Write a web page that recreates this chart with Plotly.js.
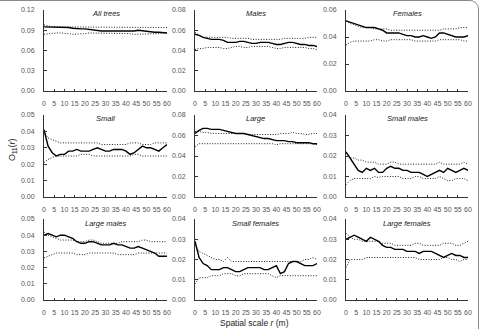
<!DOCTYPE html>
<html>
<head>
<meta charset="utf-8">
<script src="https://cdn.plot.ly/plotly-3.0.1.min.js"></script>
<style>
  html, body { margin: 0; padding: 0; background: #fff; overflow: hidden; }
  #wrap { position: relative; width: 479px; height: 329px; }
  #chart { width: 479px; height: 329px; }
  #frame {
    position: absolute; left: -20px; top: 0; width: 499px; height: 345px;
    box-sizing: border-box; border: 1px solid #8a8a8a; border-radius: 0 9px 9px 0;
    pointer-events: none;
  }
</style>
</head>
<body>
<div id="wrap">
  <div id="chart"></div>
  <div id="frame"></div>
</div>
<script>
// Spatial scale r (m), sampled every 2 m
const r = [0,2,4,6,8,10,12,14,16,18,20,22,24,26,28,30,32,34,36,38,40,42,44,46,48,50,52,54,56,58,60];

// Observed O11(r) and the upper / lower simulation envelopes for each group
const allTreesObs = [0.095,0.095,0.094,0.094,0.094,0.094,0.094,0.093,0.092,0.092,0.092,0.091,0.090,0.090,0.089,0.089,0.089,0.0885,0.0885,0.088,0.088,0.089,0.089,0.090,0.089,0.088,0.087,0.087,0.087,0.086,0.086];
const allTreesHi  = [0.098,0.096,0.095,0.095,0.095,0.095,0.095,0.095,0.094,0.094,0.094,0.094,0.094,0.094,0.094,0.094,0.094,0.094,0.094,0.094,0.094,0.094,0.095,0.095,0.095,0.095,0.094,0.094,0.094,0.094,0.094];
const allTreesLo  = [0.084,0.085,0.085,0.086,0.086,0.086,0.085,0.084,0.084,0.085,0.085,0.086,0.086,0.086,0.086,0.085,0.085,0.085,0.085,0.085,0.085,0.085,0.084,0.084,0.084,0.084,0.085,0.085,0.085,0.086,0.086];

const malesObs = [0.056,0.055,0.053,0.052,0.051,0.051,0.051,0.050,0.048,0.048,0.048,0.049,0.049,0.048,0.047,0.047,0.048,0.048,0.048,0.047,0.046,0.046,0.047,0.048,0.048,0.047,0.046,0.046,0.045,0.045,0.044];
const malesHi  = [0.058,0.055,0.053,0.053,0.053,0.053,0.053,0.053,0.053,0.052,0.052,0.052,0.052,0.052,0.051,0.051,0.051,0.051,0.051,0.051,0.051,0.051,0.052,0.052,0.052,0.052,0.052,0.052,0.053,0.053,0.053];
const malesLo  = [0.041,0.042,0.042,0.043,0.043,0.043,0.043,0.042,0.042,0.043,0.044,0.044,0.043,0.043,0.044,0.044,0.044,0.044,0.044,0.043,0.042,0.042,0.043,0.043,0.043,0.043,0.043,0.043,0.042,0.042,0.041];

const femalesObs = [0.052,0.051,0.050,0.049,0.048,0.047,0.047,0.047,0.046,0.045,0.043,0.043,0.043,0.043,0.042,0.041,0.041,0.040,0.040,0.041,0.040,0.039,0.040,0.043,0.043,0.042,0.041,0.040,0.040,0.040,0.041];
const femalesHi  = [0.052,0.050,0.049,0.048,0.047,0.047,0.047,0.046,0.046,0.046,0.046,0.045,0.045,0.045,0.045,0.045,0.045,0.045,0.045,0.045,0.045,0.045,0.045,0.045,0.046,0.046,0.046,0.046,0.047,0.047,0.047];
const femalesLo  = [0.034,0.036,0.037,0.037,0.037,0.037,0.037,0.038,0.038,0.037,0.037,0.038,0.038,0.038,0.038,0.038,0.038,0.037,0.037,0.037,0.037,0.037,0.037,0.038,0.038,0.038,0.038,0.038,0.038,0.037,0.037];

const smallObs = [0.041,0.031,0.027,0.025,0.026,0.026,0.028,0.028,0.029,0.028,0.028,0.028,0.029,0.030,0.029,0.028,0.028,0.029,0.029,0.029,0.028,0.026,0.027,0.029,0.031,0.030,0.030,0.029,0.028,0.030,0.032];
const smallHi  = [0.040,0.036,0.035,0.034,0.033,0.033,0.033,0.033,0.033,0.033,0.033,0.033,0.033,0.033,0.032,0.032,0.032,0.032,0.032,0.032,0.032,0.033,0.033,0.033,0.032,0.032,0.032,0.033,0.033,0.033,0.033];
const smallLo  = [0.021,0.023,0.024,0.025,0.025,0.025,0.025,0.025,0.025,0.026,0.026,0.026,0.025,0.025,0.025,0.025,0.025,0.025,0.025,0.025,0.025,0.025,0.026,0.026,0.025,0.025,0.025,0.025,0.025,0.025,0.025];

const largeObs = [0.062,0.065,0.067,0.067,0.066,0.066,0.066,0.065,0.064,0.063,0.062,0.062,0.062,0.061,0.060,0.059,0.058,0.057,0.057,0.056,0.055,0.055,0.055,0.054,0.054,0.053,0.053,0.053,0.053,0.052,0.052];
const largeHi  = [0.064,0.064,0.063,0.063,0.062,0.062,0.062,0.062,0.062,0.062,0.062,0.062,0.062,0.061,0.061,0.061,0.061,0.061,0.061,0.061,0.061,0.062,0.062,0.062,0.063,0.062,0.062,0.061,0.061,0.062,0.062];
const largeLo  = [0.049,0.052,0.052,0.052,0.052,0.052,0.052,0.052,0.052,0.052,0.052,0.052,0.052,0.052,0.052,0.052,0.052,0.052,0.052,0.052,0.051,0.052,0.052,0.052,0.052,0.052,0.052,0.052,0.052,0.052,0.051];

const smallMalesObs = [0.022,0.019,0.016,0.013,0.012,0.014,0.013,0.014,0.012,0.012,0.014,0.015,0.014,0.014,0.013,0.013,0.012,0.012,0.012,0.011,0.010,0.011,0.012,0.013,0.012,0.014,0.013,0.012,0.013,0.014,0.013];
const smallMalesHi  = [0.022,0.019,0.019,0.018,0.018,0.017,0.017,0.017,0.016,0.016,0.016,0.017,0.017,0.016,0.016,0.016,0.016,0.016,0.016,0.016,0.016,0.016,0.016,0.017,0.016,0.016,0.016,0.016,0.016,0.017,0.016];
const smallMalesLo  = [0.006,0.008,0.009,0.009,0.009,0.009,0.009,0.010,0.0095,0.010,0.010,0.010,0.010,0.010,0.009,0.009,0.009,0.010,0.010,0.009,0.009,0.009,0.009,0.010,0.009,0.008,0.008,0.009,0.009,0.009,0.008];

const largeMalesObs = [0.040,0.041,0.040,0.039,0.040,0.040,0.039,0.038,0.036,0.035,0.035,0.036,0.036,0.035,0.034,0.034,0.034,0.035,0.034,0.034,0.033,0.032,0.032,0.033,0.032,0.031,0.030,0.029,0.027,0.027,0.027];
const largeMalesHi  = [0.042,0.040,0.039,0.038,0.037,0.037,0.037,0.037,0.036,0.036,0.036,0.037,0.037,0.036,0.035,0.035,0.035,0.035,0.035,0.036,0.036,0.036,0.036,0.036,0.037,0.037,0.036,0.036,0.036,0.036,0.036];
const largeMalesLo  = [0.026,0.027,0.028,0.029,0.029,0.029,0.029,0.029,0.028,0.028,0.028,0.029,0.029,0.029,0.029,0.029,0.029,0.029,0.028,0.028,0.028,0.028,0.028,0.029,0.029,0.029,0.029,0.029,0.029,0.029,0.029];

const smallFemalesObs = [0.029,0.021,0.018,0.017,0.015,0.015,0.015,0.016,0.016,0.015,0.014,0.014,0.015,0.016,0.016,0.016,0.016,0.015,0.015,0.016,0.017,0.013,0.014,0.018,0.019,0.019,0.018,0.017,0.017,0.017,0.018];
const smallFemalesHi  = [0.027,0.024,0.023,0.022,0.021,0.020,0.020,0.019,0.021,0.019,0.019,0.019,0.019,0.019,0.019,0.019,0.019,0.019,0.019,0.019,0.019,0.019,0.019,0.019,0.019,0.019,0.019,0.020,0.020,0.021,0.020];
const smallFemalesLo  = [0.008,0.011,0.011,0.011,0.012,0.012,0.012,0.013,0.013,0.013,0.012,0.012,0.013,0.013,0.013,0.013,0.013,0.013,0.013,0.012,0.011,0.012,0.012,0.012,0.012,0.012,0.012,0.012,0.012,0.012,0.012];

const largeFemalesObs = [0.030,0.031,0.032,0.031,0.030,0.029,0.031,0.030,0.029,0.027,0.026,0.026,0.025,0.025,0.025,0.024,0.024,0.024,0.023,0.024,0.024,0.024,0.023,0.022,0.021,0.022,0.023,0.022,0.022,0.021,0.021];
const largeFemalesHi  = [0.033,0.031,0.030,0.030,0.029,0.029,0.029,0.029,0.029,0.028,0.028,0.028,0.027,0.027,0.027,0.027,0.027,0.028,0.028,0.027,0.027,0.027,0.027,0.027,0.028,0.028,0.028,0.027,0.027,0.028,0.029];
const largeFemalesLo  = [0.016,0.020,0.020,0.020,0.020,0.021,0.021,0.021,0.021,0.021,0.021,0.021,0.021,0.021,0.021,0.021,0.021,0.021,0.020,0.020,0.020,0.020,0.020,0.020,0.021,0.021,0.020,0.020,0.019,0.020,0.020];

// Panel titles and y-axis extents, in reading order
const panelTitles = ['All trees','Males','Females','Small','Large','Small males','Large males','Small females','Large females'];
const yMax   = [0.12, 0.08, 0.06, 0.05, 0.08, 0.04, 0.05, 0.04, 0.04];
const yStep  = [0.03, 0.02, 0.02, 0.01, 0.02, 0.01, 0.01, 0.01, 0.01];
const xTicks = [0,5,10,15,20,25,30,35,40,45,50,55,60];

const panels = [
  [allTreesObs, allTreesHi, allTreesLo],
  [malesObs, malesHi, malesLo],
  [femalesObs, femalesHi, femalesLo],
  [smallObs, smallHi, smallLo],
  [largeObs, largeHi, largeLo],
  [smallMalesObs, smallMalesHi, smallMalesLo],
  [largeMalesObs, largeMalesHi, largeMalesLo],
  [smallFemalesObs, smallFemalesHi, smallFemalesLo],
  [largeFemalesObs, largeFemalesHi, largeFemalesLo]
];

// Panel grid (paper fractions)
const W = 479, H = 329;
const colPx = [[44,167],[195,317],[346,468]];
const rowPx = [[10,91],[115,197],[219,300]];

const tickFont = {family: 'Liberation Sans, Arial, sans-serif', size: 7, color: '#555'};
const traces = [];
const layout = {
  width: W, height: H,
  margin: {l: 0, r: 0, t: 0, b: 0},
  paper_bgcolor: '#fff', plot_bgcolor: '#fff',
  showlegend: false,
  font: {family: 'Liberation Sans, Arial, sans-serif', color: '#222'},
  annotations: []
};

panels.forEach((series, i) => {
  const row = Math.floor(i / 3), col = i % 3;
  const k = i === 0 ? '' : String(i + 1);
  const xa = 'x' + k, ya = 'y' + k;
  const [obs, hi, lo] = series;

  [hi, lo].forEach(env => traces.push({
    x: r, y: env, xaxis: xa, yaxis: ya, type: 'scatter', mode: 'lines',
    line: {color: '#222', width: 1, dash: '1px,1.6px'}, hoverinfo: 'skip'
  }));
  traces.push({
    x: r, y: obs, xaxis: xa, yaxis: ya, type: 'scatter', mode: 'lines',
    line: {color: '#000', width: 1.4}, hoverinfo: 'skip'
  });

  const xd = [colPx[col][0] / W, colPx[col][1] / W];
  const yd = [1 - rowPx[row][1] / H, 1 - rowPx[row][0] / H];

  layout['xaxis' + k] = {
    domain: xd, anchor: ya, range: [0, 60],
    tickvals: xTicks, ticks: 'inside', ticklen: 2.5, tickcolor: '#333', tickwidth: 1,
    showline: true, linecolor: '#333', linewidth: 1,
    showgrid: false, zeroline: false, tickfont: tickFont, ticklabelstandoff: 6,
    fixedrange: true
  };
  const yv = [];
  for (let v = 0; v <= yMax[i] + 1e-9; v += yStep[i]) yv.push(+v.toFixed(3));
  layout['yaxis' + k] = {
    domain: yd, anchor: xa, range: [0, yMax[i]],
    tickvals: yv, ticktext: yv.map(v => v.toFixed(2)),
    ticks: 'inside', ticklen: 2.5, tickcolor: '#333', tickwidth: 1,
    showline: true, linecolor: '#333', linewidth: 1,
    showgrid: false, zeroline: false, tickfont: tickFont, ticklabelstandoff: 7,
    fixedrange: true
  };

  layout.annotations.push({
    text: '<i>' + panelTitles[i] + '</i>',
    xref: 'paper', yref: 'paper',
    x: (colPx[col][0] + colPx[col][1]) / 2 / W,
    y: 1 - (rowPx[row][0] + 4) / H,
    xanchor: 'center', yanchor: 'middle', showarrow: false,
    font: {family: 'Liberation Sans, Arial, sans-serif', size: 7.5, color: '#222'}
  });
});

// Shared axis titles
layout.annotations.push({
  text: 'Spatial scale <i>r</i> (m)',
  xref: 'paper', yref: 'paper', x: 255 / W, y: 1 - 323 / H,
  xanchor: 'center', yanchor: 'middle', showarrow: false,
  font: {family: 'Liberation Sans, Arial, sans-serif', size: 8.5, color: '#222'}
});
layout.annotations.push({
  text: 'O<sub>11</sub>(<i>r</i>)',
  xref: 'paper', yref: 'paper', x: 12 / W, y: 1 - 150 / H,
  xanchor: 'center', yanchor: 'middle', textangle: -90, showarrow: false,
  font: {family: 'Liberation Sans, Arial, sans-serif', size: 9, color: '#222'}
});

Plotly.newPlot('chart', traces, layout, {displayModeBar: false, staticPlot: true});
</script>
</body>
</html>
